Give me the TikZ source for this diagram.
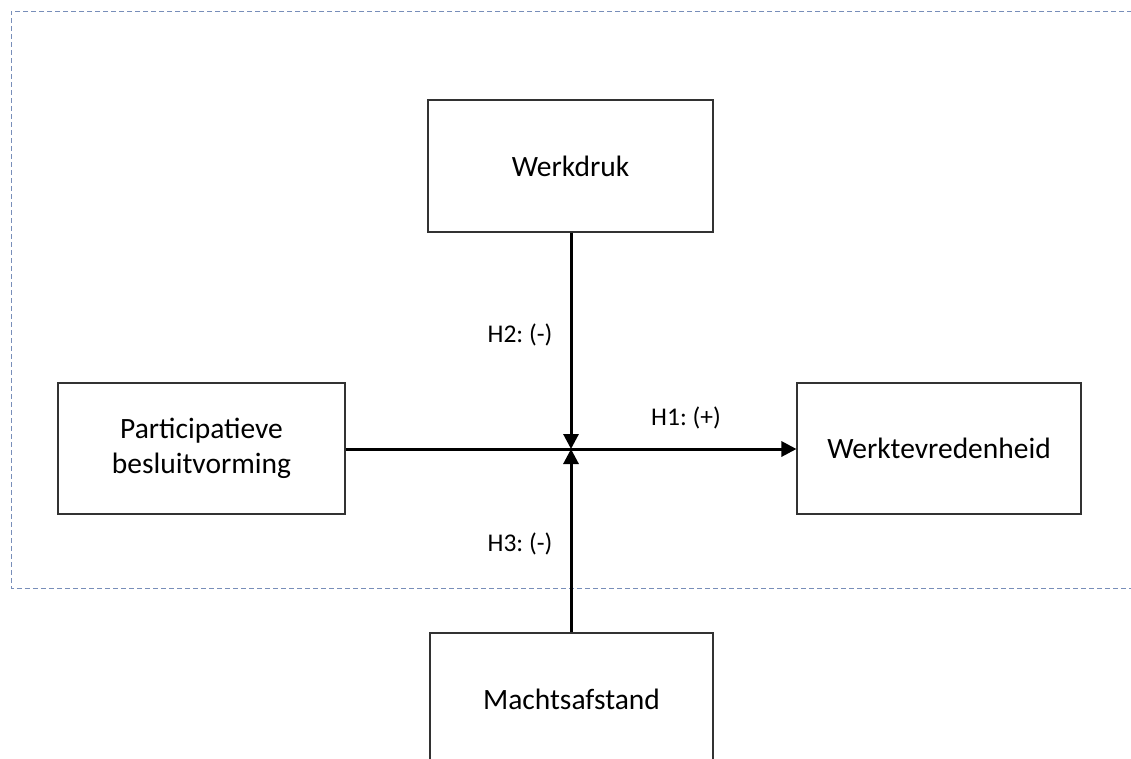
\documentclass[tikz,border=0pt]{standalone}
\usepackage{fontspec}
\setmainfont{Carlito}
\usetikzlibrary{arrows.meta}
\definecolor{framecol}{RGB}{120,142,185}
\definecolor{boxcol}{RGB}{50,50,50}
\frenchspacing
\tikzset{
  varbox/.style={draw=boxcol, line width=1.1pt, minimum width=285pt, minimum height=132pt,
    align=center, font=\fontsize{29.5}{35}\selectfont, inner sep=0pt},
  hyplabel/.style={font=\fontsize{25.5}{30}\selectfont, inner sep=0pt},
  effect/.style={line width=3pt, -{Triangle[width=15pt,length=15pt]}},
  frameline/.style={draw=framecol, line width=1pt, dash pattern=on 5pt off 3pt}
}
\begin{document}
\begin{tikzpicture}[x=1pt,y=-1pt]
\useasboundingbox (0,0) rectangle (1131,758);
\clip (0,0) rectangle (1131,758);
\fill[white] (0,0) rectangle (1131,758);
\draw[frameline] (1140,11) -- (11,11) -- (11,588) -- (1140,588);
\node[varbox] (werkdruk) at (570.5,166) {Werkdruk};
\node[varbox, minimum width=287pt, minimum height=131pt] (part) at (201.5,448.5) {Participatieve\\besluitvorming};
\node[varbox, minimum width=284pt, minimum height=131pt] (tevr) at (939,448.5) {Werktevredenheid};
\node[varbox, minimum width=283pt] (macht) at (571.5,699) {Machtsafstand};
\coordinate (c) at (571,449);
\draw[line width=3pt] (part.east |- c) -- (c);
\draw[effect] (c) -- (tevr.west |- c);
\draw[effect] (werkdruk.south -| c) -- (c);
\draw[effect] (macht.north -| c) -- (c);
\node[hyplabel] (h2) at (520,335) {H2: (-)};
\node[hyplabel] (h1) at (686,418) {H1: (+)};
\node[hyplabel] (h3) at (520,544) {H3: (-)};
\end{tikzpicture}
\end{document}
